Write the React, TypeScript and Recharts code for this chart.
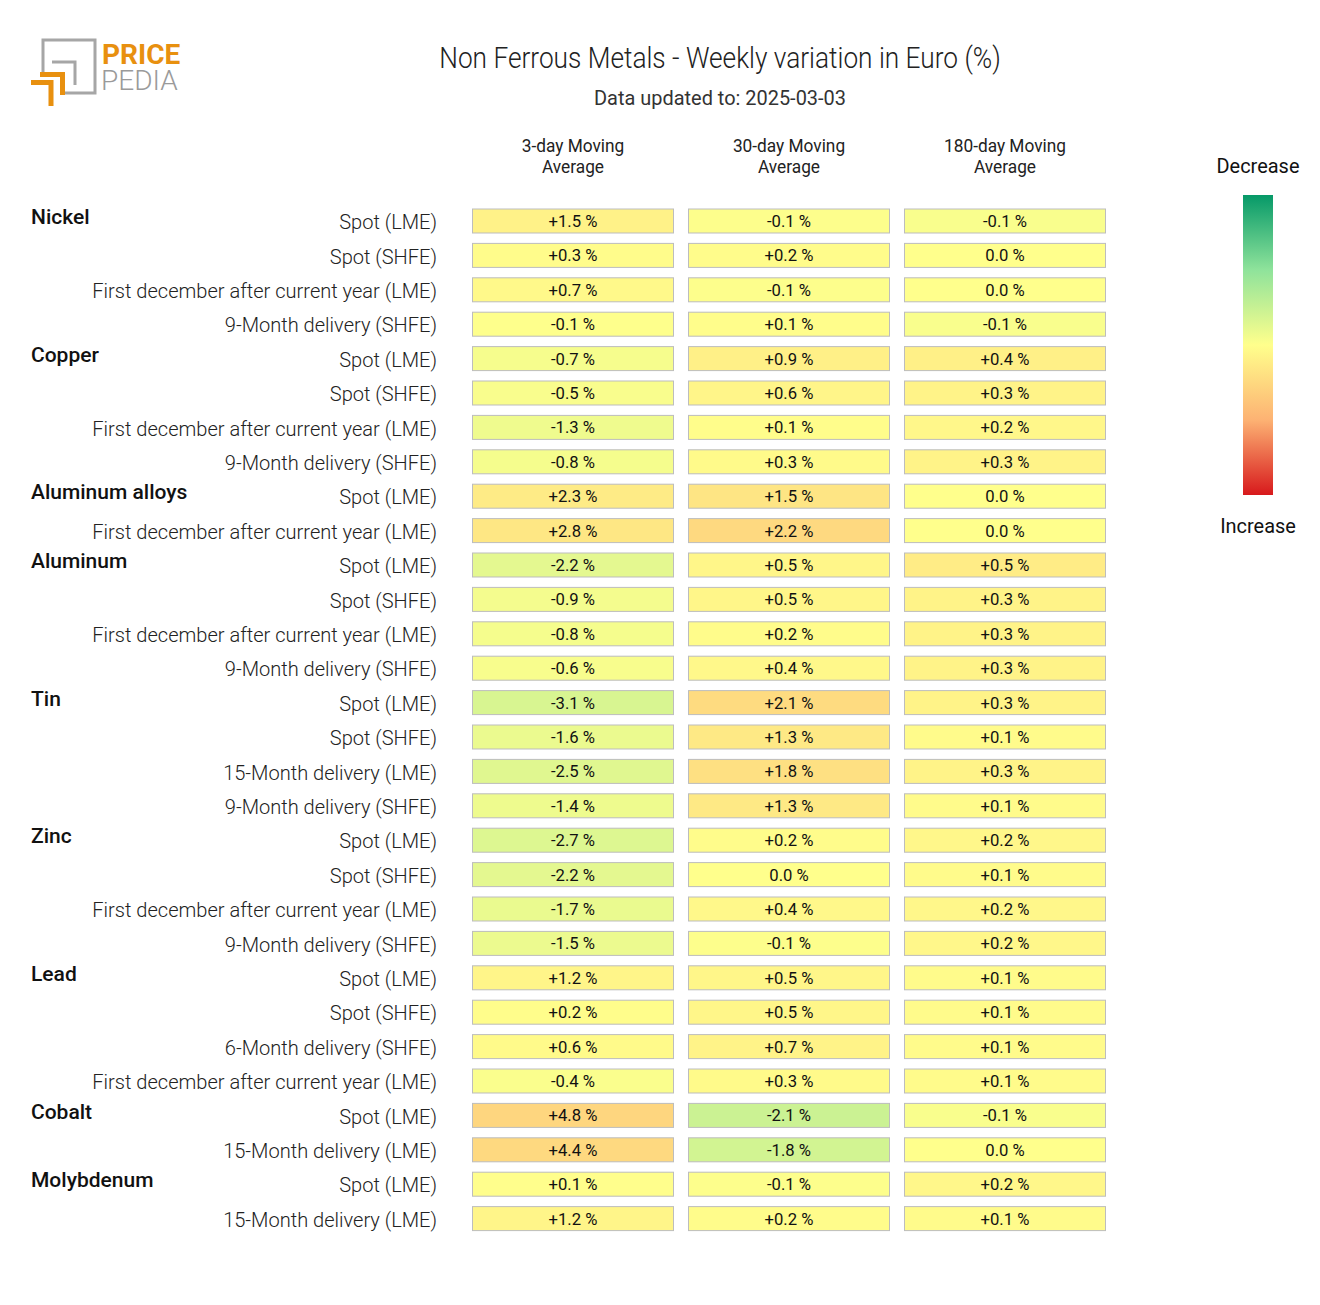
import { BarChart, Bar, XAxis, YAxis } from "recharts";

const rowMetal = [
  "Nickel", "", "", "",
  "Copper", "", "", "",
  "Aluminum alloys", "",
  "Aluminum", "", "", "",
  "Tin", "", "", "",
  "Zinc", "", "", "",
  "Lead", "", "", "",
  "Cobalt", "",
  "Molybdenum", "",
];

const rowLabels = [
  "Spot (LME)", "Spot (SHFE)", "First december after current year (LME)", "9-Month delivery (SHFE)",
  "Spot (LME)", "Spot (SHFE)", "First december after current year (LME)", "9-Month delivery (SHFE)",
  "Spot (LME)", "First december after current year (LME)",
  "Spot (LME)", "Spot (SHFE)", "First december after current year (LME)", "9-Month delivery (SHFE)",
  "Spot (LME)", "Spot (SHFE)", "15-Month delivery (LME)", "9-Month delivery (SHFE)",
  "Spot (LME)", "Spot (SHFE)", "First december after current year (LME)", "9-Month delivery (SHFE)",
  "Spot (LME)", "Spot (SHFE)", "6-Month delivery (SHFE)", "First december after current year (LME)",
  "Spot (LME)", "15-Month delivery (LME)",
  "Spot (LME)", "15-Month delivery (LME)",
];

const ma3 = [
  1.5, 0.3, 0.7, -0.1,
  -0.7, -0.5, -1.3, -0.8,
  2.3, 2.8,
  -2.2, -0.9, -0.8, -0.6,
  -3.1, -1.6, -2.5, -1.4,
  -2.7, -2.2, -1.7, -1.5,
  1.2, 0.2, 0.6, -0.4,
  4.8, 4.4,
  0.1, 1.2,
];

const ma30 = [
  -0.1, 0.2, -0.1, 0.1,
  0.9, 0.6, 0.1, 0.3,
  1.5, 2.2,
  0.5, 0.5, 0.2, 0.4,
  2.1, 1.3, 1.8, 1.3,
  0.2, 0.0, 0.4, -0.1,
  0.5, 0.5, 0.7, 0.3,
  -2.1, -1.8,
  -0.1, 0.2,
];

const ma180 = [
  -0.1, 0.0, 0.0, -0.1,
  0.4, 0.3, 0.2, 0.3,
  0.0, 0.0,
  0.5, 0.3, 0.3, 0.3,
  0.3, 0.1, 0.3, 0.1,
  0.2, 0.1, 0.2, 0.2,
  0.1, 0.1, 0.1, 0.1,
  -0.1, 0.0,
  0.2, 0.1,
];

const columnTitles = [
  ["3-day Moving", "Average"],
  ["30-day Moving", "Average"],
  ["180-day Moving", "Average"],
];

// colour scale half-range per column
const colorRange = [18, 9, 4];

const FONT = "Roboto, 'Open Sans', sans-serif";

const data = rowLabels.map((label, i) => ({
  id: i,
  label,
  metal: rowMetal[i],
  vals: [ma3[i], ma30[i], ma180[i]],
}));

const stops = [
  [-1, [6, 153, 104]],
  [-0.5, [143, 227, 155]],
  [0, [255, 255, 140]],
  [0.5, [253, 178, 115]],
  [1, [215, 25, 28]],
];

const colorFor = (v, range) => {
  let t = Math.max(-1, Math.min(1, v / range));
  for (let i = 0; i < stops.length - 1; i++) {
    const [t0, c0] = stops[i];
    const [t1, c1] = stops[i + 1];
    if (t >= t0 && t <= t1) {
      const f = (t - t0) / (t1 - t0);
      const c = c0.map((a, k) => Math.round(a + (c1[k] - a) * f));
      return `rgb(${c[0]},${c[1]},${c[2]})`;
    }
  }
  return "rgb(255,255,140)";
};

const fmt = (v) => (v > 0 ? "+" : v === 0 ? "" : "-") + Math.abs(v).toFixed(1) + " %";

const CText = ({ x, y, children, size = 20, anchor = "middle", weight = 400, fill = "#222", sx = 0.9 }) => (
  <text
    transform={`translate(${x},${y}) scale(${sx},1)`}
    textAnchor={anchor}
    fontFamily={FONT}
    fontSize={size}
    fontWeight={weight}
    fill={fill}
  >
    {children}
  </text>
);

const makeCell = (col) => (props) => {
  const { x, y, width, height, payload } = props;
  const v = payload.vals[col];
  const rx = x + 7.5;
  const rw = width - 15;
  return (
    <g>
      <rect x={rx} y={y} width={rw} height={height} fill={colorFor(v, colorRange[col])} stroke="#bdbdbd" strokeWidth={1} />
      <CText x={rx + rw / 2} y={y + height / 2 + 6} size={17} sx={0.98} fill="#111">
        {fmt(v)}
      </CText>
    </g>
  );
};

const RowTick = ({ y, payload }) => {
  const row = data[payload.value];
  return (
    <g>
      {row.metal && (
        <CText x={31} y={y + 3} size={21} anchor="start" weight={500} fill="#111" sx={1}>
          {row.metal}
        </CText>
      )}
      <CText x={437} y={y + 8} size={21} anchor="end" weight={300} fill="#222" sx={0.955}>
        {row.label}
      </CText>
    </g>
  );
};

const Logo = () => (
  <g>
    <path d="M43 72 V40 H95 V93 H63" fill="none" stroke="#a6a6a6" strokeWidth={3} />
    <path d="M52 62 H75 V85" fill="none" stroke="#a6a6a6" strokeWidth={3} />
    <path d="M40 74.5 H62.5 V95" fill="none" stroke="#e8900f" strokeWidth={5} />
    <path d="M31 82.5 H51 V106" fill="none" stroke="#e8900f" strokeWidth={5} />
    <text x={102} y={64} fontFamily={FONT} fontSize={28} fontWeight={700} fill="#e8900f">PRICE</text>
    <text x={101} y={90} fontFamily={FONT} fontSize={28} fontWeight={300} fill="#9a9a9a">PEDIA</text>
  </g>
);

const colCenters = [573, 789, 1005];

const App = () => (
  <div style={{ position: "absolute", left: 0, top: 0, width: 1320, height: 1305, background: "#fff" }}>
    <BarChart
      width={1320}
      height={1305}
      data={data}
      layout="vertical"
      margin={{ top: 204, right: 207, bottom: 69, left: 0 }}
      barSize={24}
    >
      <XAxis type="number" domain={[0, 3]} hide />
      <YAxis
        type="category"
        dataKey="id"
        width={465}
        axisLine={false}
        tickLine={false}
        interval={0}
        tick={<RowTick />}
      />
      {[0, 1, 2].map((c) => (
        <Bar
          key={c}
          dataKey={() => 1}
          stackId="cols"
          isAnimationActive={false}
          shape={makeCell(c)}
        />
      ))}
    </BarChart>
    <svg width={1320} height={1305} style={{ position: "absolute", left: 0, top: 0, pointerEvents: "none" }}>
      <Logo />
      <CText x={720} y={68} size={29} weight={300} fill="#222" sx={0.905}>
        Non Ferrous Metals - Weekly variation in Euro (%)
      </CText>
      <CText x={720} y={105} size={21} weight={400} fill="#333" sx={0.95}>
        Data updated to: 2025-03-03
      </CText>
      {columnTitles.map((t, i) => (
        <g key={i}>
          <CText x={colCenters[i]} y={152} size={18} fill="#222" sx={0.96}>{t[0]}</CText>
          <CText x={colCenters[i]} y={173} size={18} fill="#222" sx={0.96}>{t[1]}</CText>
        </g>
      ))}
      <defs>
        <linearGradient id="cbar" x1="0" y1="0" x2="0" y2="1">
          <stop offset="0" stopColor="rgb(6,153,104)" />
          <stop offset="0.25" stopColor="rgb(143,227,155)" />
          <stop offset="0.5" stopColor="rgb(255,255,140)" />
          <stop offset="0.75" stopColor="rgb(253,178,115)" />
          <stop offset="1" stopColor="rgb(215,25,28)" />
        </linearGradient>
      </defs>
      <rect x={1243} y={195} width={30} height={300} fill="url(#cbar)" />
      <CText x={1258} y={173} size={21} weight={400} fill="#111" sx={0.95}>Decrease</CText>
      <CText x={1258} y={533} size={21} weight={400} fill="#111" sx={0.95}>Increase</CText>
    </svg>
  </div>
);

export default App;
